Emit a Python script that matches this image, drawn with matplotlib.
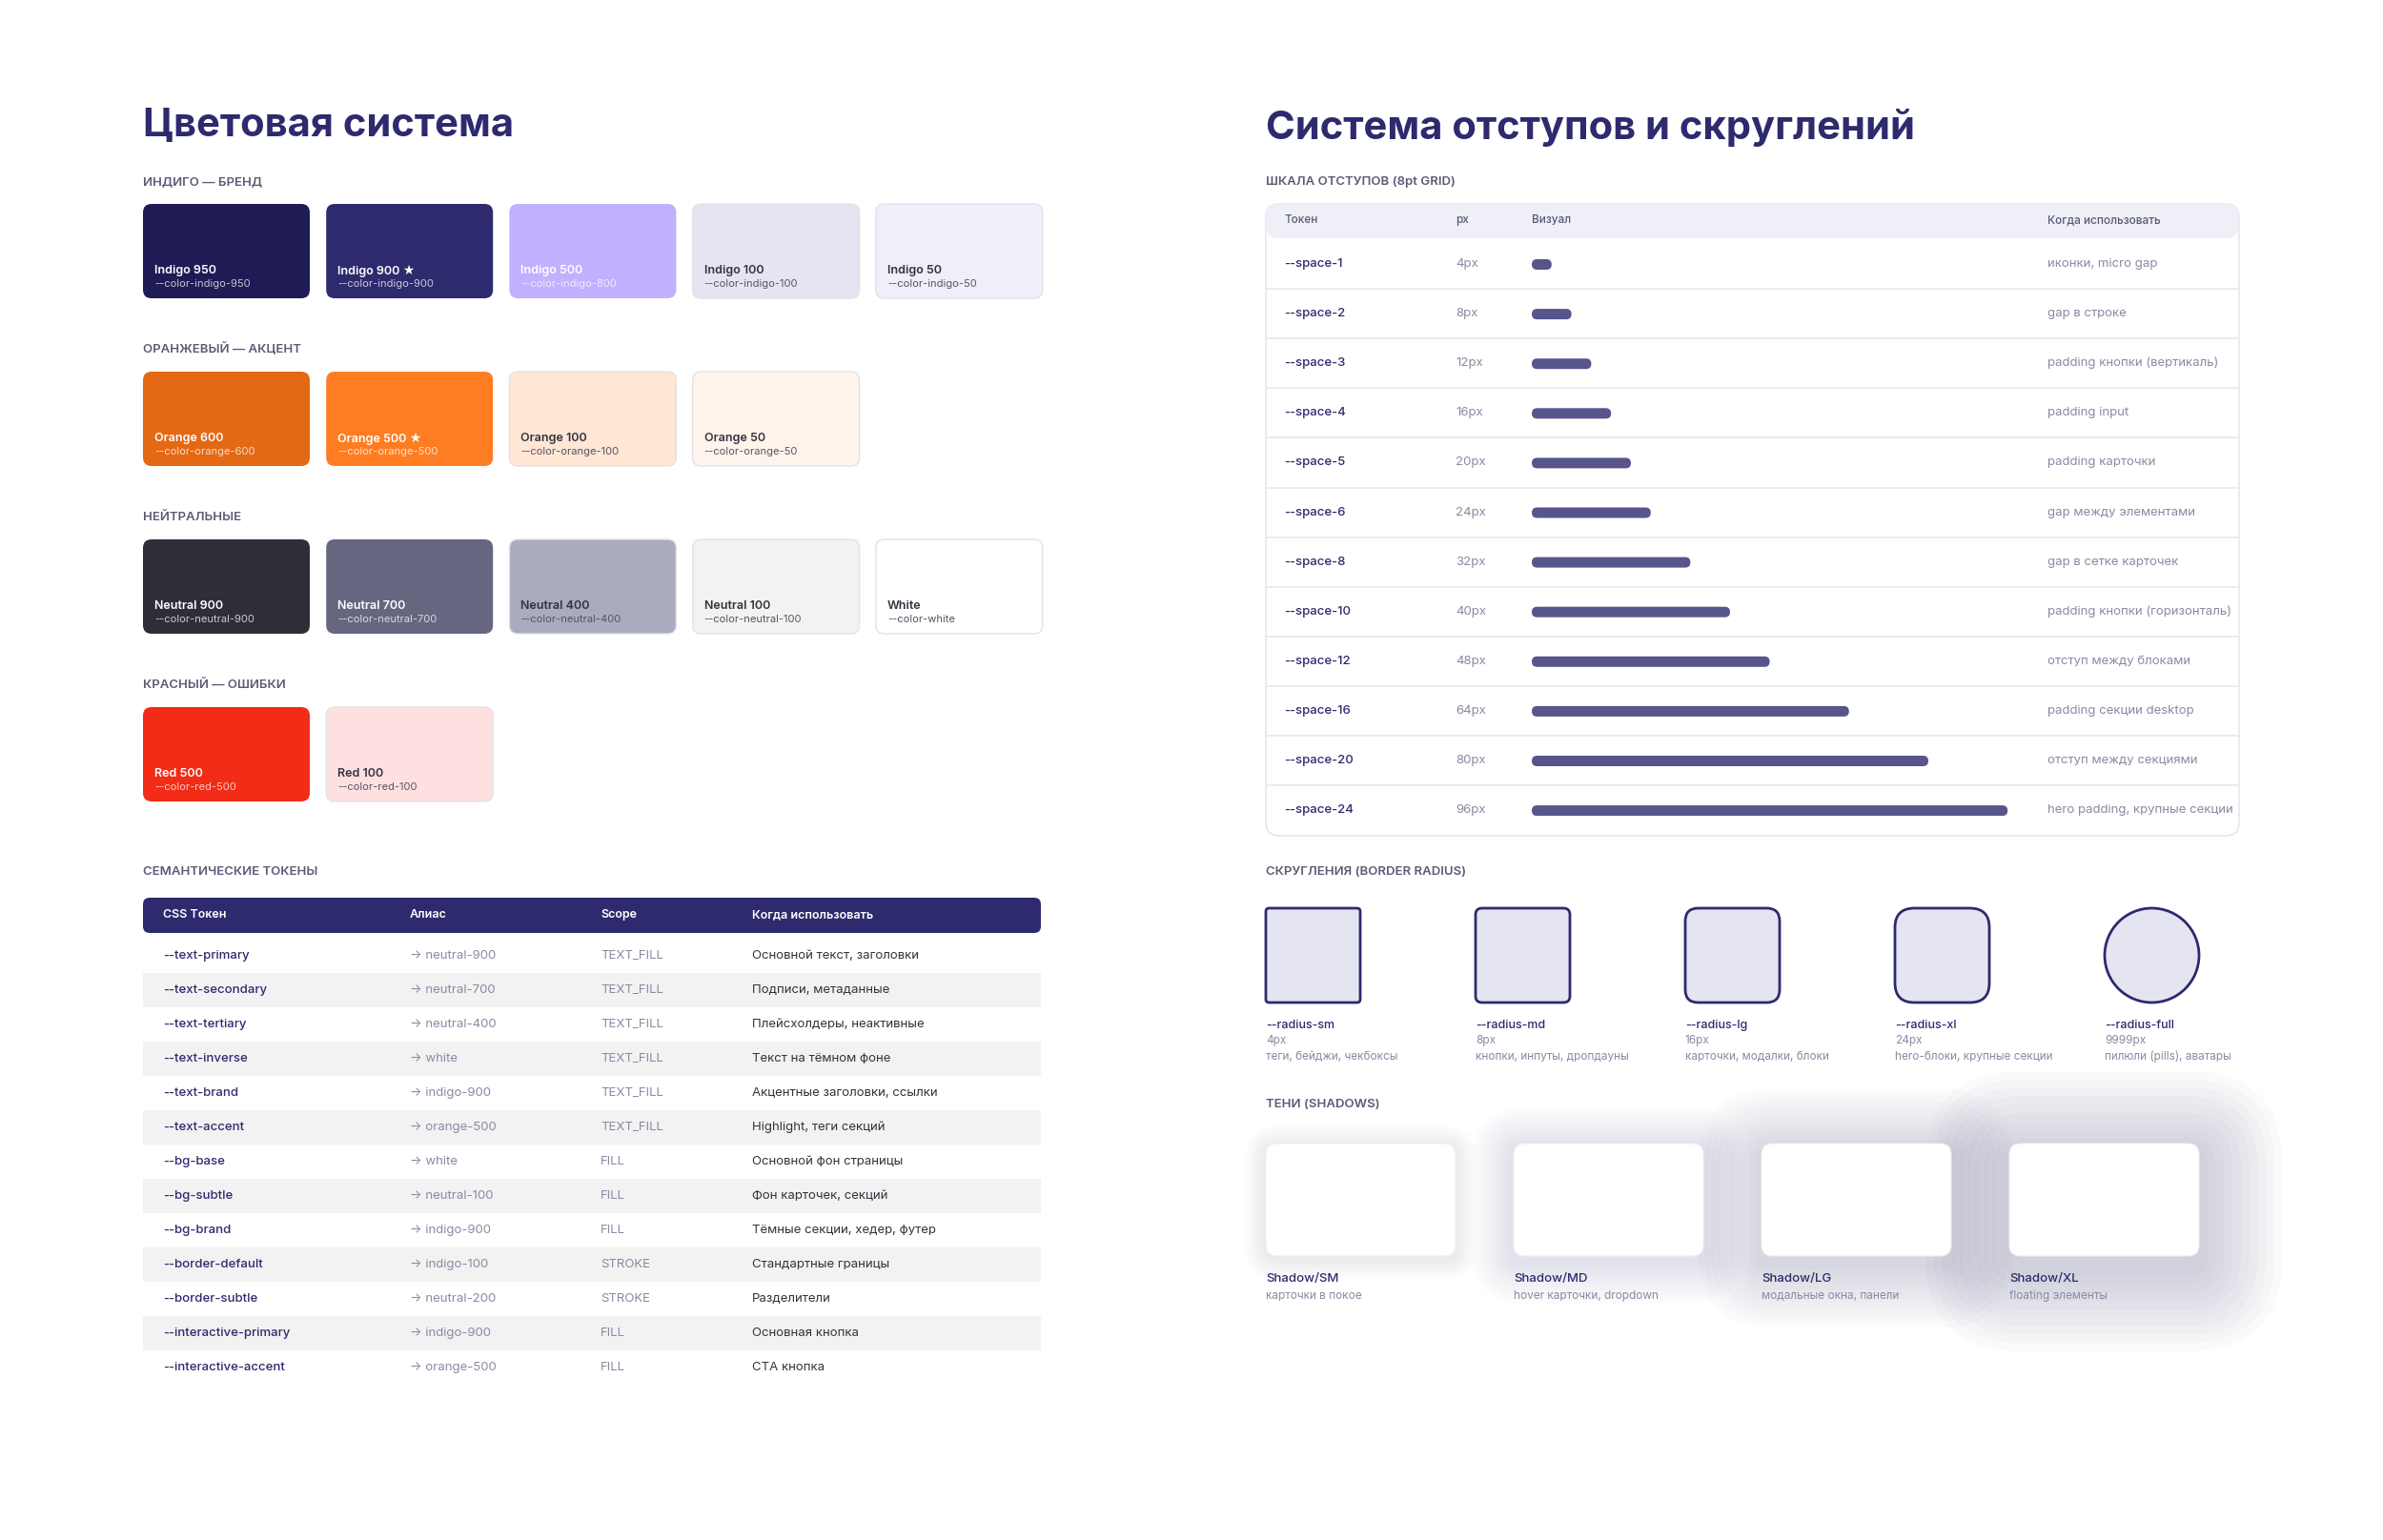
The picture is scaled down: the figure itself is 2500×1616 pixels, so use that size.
import matplotlib.pyplot as plt
from matplotlib.patches import FancyBboxPatch, Circle, Rectangle

plt.rcParams['font.family'] = ['Inter', 'DejaVu Sans']

# ---------------- data ----------------
palette_groups = ['ИНДИГО — БРЕНД', 'ОРАНЖЕВЫЙ — АКЦЕНТ', 'НЕЙТРАЛЬНЫЕ', 'КРАСНЫЙ — ОШИБКИ']
palette_names = [
    ['Indigo 950', 'Indigo 900 ★', 'Indigo 500', 'Indigo 100', 'Indigo 50'],
    ['Orange 600', 'Orange 500 ★', 'Orange 100', 'Orange 50'],
    ['Neutral 900', 'Neutral 700', 'Neutral 400', 'Neutral 100', 'White'],
    ['Red 500', 'Red 100'],
]
palette_vars = [
    ['--color-indigo-950', '--color-indigo-900', '--color-indigo-800', '--color-indigo-100', '--color-indigo-50'],
    ['--color-orange-600', '--color-orange-500', '--color-orange-100', '--color-orange-50'],
    ['--color-neutral-900', '--color-neutral-700', '--color-neutral-400', '--color-neutral-100', '--color-white'],
    ['--color-red-500', '--color-red-100'],
]
palette_hex = [
    ['#1E1B55', '#2E2A6E', '#C0B0FE', '#E5E4F2', '#EFEFFA'],
    ['#E36915', '#FE7D22', '#FFE6D5', '#FFF4EB'],
    ['#2E2E38', '#666680', '#ABABBF', '#F2F2F2', '#FFFFFF'],
    ['#F22C16', '#FFE0E0'],
]
palette_light_text = [
    [True, True, True, False, False],
    [True, True, False, False],
    [True, True, False, False, False],
    [True, False],
]

sem_tokens = ['--text-primary', '--text-secondary', '--text-tertiary', '--text-inverse',
              '--text-brand', '--text-accent', '--bg-base', '--bg-subtle', '--bg-brand',
              '--border-default', '--border-subtle', '--interactive-primary', '--interactive-accent']
sem_alias = ['neutral-900', 'neutral-700', 'neutral-400', 'white', 'indigo-900', 'orange-500',
             'white', 'neutral-100', 'indigo-900', 'indigo-100', 'neutral-200', 'indigo-900', 'orange-500']
sem_scope = ['TEXT_FILL'] * 6 + ['FILL', 'FILL', 'FILL', 'STROKE', 'STROKE', 'FILL', 'FILL']
sem_use = ['Основной текст, заголовки', 'Подписи, метаданные', 'Плейсхолдеры, неактивные',
           'Текст на тёмном фоне', 'Акцентные заголовки, ссылки', 'Highlight, теги секций',
           'Основной фон страницы', 'Фон карточек, секций', 'Тёмные секции, хедер, футер',
           'Стандартные границы', 'Разделители', 'Основная кнопка', 'CTA кнопка']

space_tokens = ['--space-1', '--space-2', '--space-3', '--space-4', '--space-5', '--space-6',
                '--space-8', '--space-10', '--space-12', '--space-16', '--space-20', '--space-24']
space_px = [4, 8, 12, 16, 20, 24, 32, 40, 48, 64, 80, 96]
space_use = ['иконки, micro gap', 'gap в строке', 'padding кнопки (вертикаль)', 'padding input',
             'padding карточки', 'gap между элементами', 'gap в сетке карточек',
             'padding кнопки (горизонталь)', 'отступ между блоками', 'padding секции desktop',
             'отступ между секциями', 'hero padding, крупные секции']

radius_names = ['--radius-sm', '--radius-md', '--radius-lg', '--radius-xl', '--radius-full']
radius_px = [4, 8, 16, 24, 9999]
radius_use = ['теги, бейджи, чекбоксы', 'кнопки, инпуты, дропдауны', 'карточки, модалки, блоки',
              'hero-блоки, крупные секции', 'пилюли (pills), аватары']

shadow_names = ['Shadow/SM', 'Shadow/MD', 'Shadow/LG', 'Shadow/XL']
shadow_use = ['карточки в покое', 'hover карточки, dropdown', 'модальные окна, панели', 'floating элементы']
shadow_level = [1, 2, 3, 4]

# ---------------- style ----------------
BRAND = '#2E2A6E'
LABEL = '#5A5A75'
MUTED = '#8A8AA3'
BODY = '#33333F'

fig = plt.figure(figsize=(25, 16.16), dpi=100)
fig.patch.set_facecolor('white')
ax = fig.add_axes([0, 0, 1, 1])
ax.set_xlim(0, 2500)
ax.set_ylim(1616, 0)
ax.axis('off')


def rbox(x, y, w, h, r, fc, ec='none', lw=0, alpha=1, z=1):
    p = FancyBboxPatch((x, y), w, h, boxstyle=f'round,pad=0,rounding_size={r}',
                       fc=fc, ec=ec, lw=lw, alpha=alpha, zorder=z)
    ax.add_patch(p)
    return p


def section(x, y, s):
    ax.text(x, y, s, fontsize=9.5, color=LABEL, fontweight='semibold', va='center')


# ---------------- left: colour system ----------------
ax.text(150, 132, 'Цветовая система', fontsize=30, fontweight='bold', color=BRAND, va='center')

for gi, group in enumerate(palette_groups):
    y0 = 191 + gi * 176
    section(150, y0, group)
    for ci, name in enumerate(palette_names[gi]):
        x = 150 + ci * 192.2
        fc = palette_hex[gi][ci]
        rbox(x, y0 + 23, 175, 99, 9, fc, ec='#E2E2EA' if not palette_light_text[gi][ci] else 'none', lw=1)
        light = palette_light_text[gi][ci]
        c1 = 'white' if light else BODY
        c2 = (1, 1, 1, 0.75) if light else '#555566'
        ax.text(x + 12, y0 + 93, name, fontsize=9, fontweight='semibold', color=c1, va='center')
        ax.text(x + 12, y0 + 107, palette_vars[gi][ci], fontsize=8, color=c2, va='center')

section(150, 915, 'СЕМАНТИЧЕСКИЕ ТОКЕНЫ')
rbox(150, 942, 942, 37, 7, BRAND)
sem_cols = [171, 430, 630, 789]
for cx, h in zip(sem_cols, ['CSS Токен', 'Алиас', 'Scope', 'Когда использовать']):
    ax.text(cx, 960, h, fontsize=9, fontweight='semibold', color='white', va='center')
for i, tok in enumerate(sem_tokens):
    y = 1003 + i * 36
    if i % 2 == 1:
        ax.add_patch(Rectangle((150, y - 18), 942, 36, fc='#F2F2F2', ec='none', zorder=0))
    ax.text(sem_cols[0], y, tok, fontsize=9.5, fontweight='medium', color=BRAND, va='center')
    ax.text(sem_cols[1], y, '→ ' + sem_alias[i], fontsize=9.5, color=MUTED, va='center')
    ax.text(sem_cols[2], y, sem_scope[i], fontsize=9.5, color=MUTED, va='center')
    ax.text(sem_cols[3], y, sem_use[i], fontsize=9.5, color=BODY, va='center')

# ---------------- right: spacing & radius ----------------
ax.text(1328, 134, 'Система отступов и скруглений', fontsize=30, fontweight='bold', color=BRAND, va='center')
section(1328, 191, 'ШКАЛА ОТСТУПОВ (8pt GRID)')

rbox(1328, 214, 1021, 663, 14, 'white', ec='#E6E6EE', lw=1.2, z=0)
rbox(1328, 214, 1021, 36, 14, '#EFEFF8', z=1)
sp_cols = [1347, 1527, 1607, 2148]
for cx, h in zip(sp_cols, ['Токен', 'px', 'Визуал', 'Когда использовать']):
    ax.text(cx, 231, h, fontsize=8.5, fontweight='medium', color=LABEL, va='center')
for i, tok in enumerate(space_tokens):
    y = 277 + i * 52.1
    if i > 0:
        ax.plot([1329, 2348], [y - 26, y - 26], color='#E8E8EE', lw=1.2, zorder=1)
    ax.text(sp_cols[0], y, tok, fontsize=9.5, fontweight='medium', color=BRAND, va='center')
    ax.text(sp_cols[1], y, f'{space_px[i]}px', fontsize=9.5, color=MUTED, va='center')
    w = space_px[i] * 5.2
    rbox(sp_cols[2], y - 5, w, 11, 5.5, '#57558A', z=2)
    ax.text(sp_cols[3], y, space_use[i], fontsize=9.5, color=MUTED, va='center')

section(1328, 915, 'СКРУГЛЕНИЯ (BORDER RADIUS)')
for i, name in enumerate(radius_names):
    x = 1328 + i * 220
    if radius_px[i] > 100:
        ax.add_patch(Circle((x + 49.5, 1002.5), 49.5, fc='#E5E5F2', ec=BRAND, lw=2))
    else:
        rbox(x, 953, 99, 99, radius_px[i] * 0.85, '#E5E5F2', ec=BRAND, lw=2)
    ax.text(x, 1076, name, fontsize=9, fontweight='medium', color=BRAND, va='center')
    ax.text(x, 1092, f'{radius_px[i]}px', fontsize=8.5, color=MUTED, va='center')
    ax.text(x, 1109, radius_use[i], fontsize=8.5, color=MUTED, va='center')

section(1328, 1159, 'ТЕНИ (SHADOWS)')
for i, name in enumerate(shadow_names):
    x = 1328 + i * 260
    lvl = shadow_level[i]
    for k in range(10, 0, -1):
        spread = k * 2.2 * lvl
        rbox(x - spread, 1200 - spread + lvl * 3, 199 + 2 * spread, 118 + 2 * spread,
             12 + spread, '#3A3A70', alpha=0.006 * lvl, z=1)
    rbox(x, 1200, 199, 118, 12, 'white', ec='#F0F0F4', lw=0.8, z=2)
    ax.text(x, 1342, name, fontsize=9.5, fontweight='medium', color=BRAND, va='center')
    ax.text(x, 1360, shadow_use[i], fontsize=8.5, color=MUTED, va='center')

fig.savefig('out.png', dpi=100, facecolor='white')
